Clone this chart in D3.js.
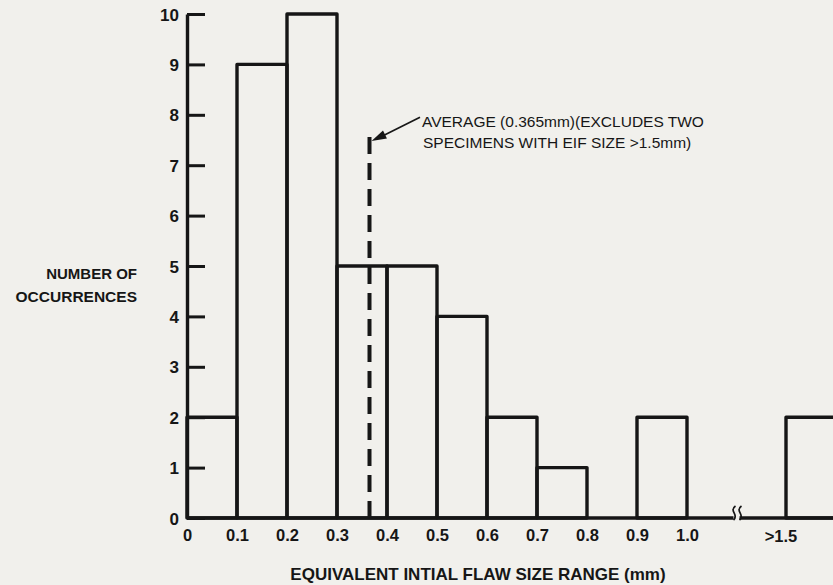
<!DOCTYPE html>
<html>
<head>
<meta charset="utf-8">
<script src="https://cdn.jsdelivr.net/npm/d3@7"></script>
<style>
  body { margin: 0; background: #f1f0ec; }
  svg { display: block; }
  text { font-family: "Liberation Sans", Arial, Helvetica, sans-serif; fill: #161616; }
</style>
</head>
<body>
<div id="chart"></div>
<script>
// histogram bins (lower edge of each 0.1 mm range) and counts
var binStarts = [0, 0.1, 0.2, 0.3, 0.4, 0.5, 0.6, 0.7, 0.8, 0.9];
var counts = [2, 9, 10, 5, 5, 4, 2, 1, 0, 2];
// the separate ">1.5" bin past the axis break
var overflowStart = 1.5;
var overflowCount = 2;
var binWidth = 0.1;

var xTicks = [0, 0.1, 0.2, 0.3, 0.4, 0.5, 0.6, 0.7, 0.8, 0.9, 1.0];
var xTickLabels = ["0", "0.1", "0.2", "0.3", "0.4", "0.5", "0.6", "0.7", "0.8", "0.9", "1.0"];
var yTicks = [0, 1, 2, 3, 4, 5, 6, 7, 8, 9, 10];

var average = 0.365;
var averageTop = 7.65;

var width = 833, height = 585;
var ink = "#161616";

var svg = d3.select("#chart")
  .append("svg")
  .attr("width", width)
  .attr("height", height);

// x scale with a break between 1.0 and 1.5
var x = d3.scaleLinear()
  .domain([0, 1.0, 1.5, 1.6])
  .range([187, 687, 786, 836]);

var y = d3.scaleLinear()
  .domain([0, 10])
  .range([518, 14]);

// bars (outlines only, like the drawing)
var bars = binStarts.map((d, i) => ({ x0: d, x1: d + binWidth, v: counts[i] }))
  .concat([{ x0: overflowStart, x1: overflowStart + binWidth, v: overflowCount }])
  .filter(d => d.v > 0);

svg.selectAll("rect.bar")
  .data(bars)
  .enter()
  .append("rect")
  .attr("class", "bar")
  .attr("x", d => x(d.x0))
  .attr("y", d => y(d.v))
  .attr("width", d => x(d.x1) - x(d.x0))
  .attr("height", d => y(0) - y(d.v))
  .style("fill", "none")
  .style("stroke", ink)
  .style("stroke-width", 3.4)
  .style("stroke-linejoin", "round");

// y axis, ticks point inward
var yAxis = svg.append("g")
  .attr("transform", "translate(" + x(0) + ",0)")
  .call(d3.axisLeft(y).tickValues(yTicks).tickSize(-18).tickSizeOuter(0));

yAxis.select(".domain").style("stroke", ink).style("stroke-width", 3.4);
yAxis.selectAll(".tick line").style("stroke", ink).style("stroke-width", 3);
yAxis.selectAll(".tick text")
  .style("font-size", "17px")
  .style("font-weight", "bold")
  .style("fill", ink)
  .attr("x", -8)
  .attr("dy", "0.36em");

// x axis labels only, baseline drawn by hand because of the break
var xAxis = svg.append("g")
  .attr("transform", "translate(0," + y(0) + ")")
  .call(d3.axisBottom(x).tickValues(xTicks).tickFormat((d, i) => xTickLabels[i]).tickSize(0).tickPadding(11));

xAxis.select(".domain").remove();
xAxis.selectAll(".tick text")
  .style("font-size", "16.5px")
  .style("font-weight", "bold")
  .style("fill", ink);

svg.append("text")
  .attr("x", x(overflowStart) - 5)
  .attr("y", y(0) + 24)
  .attr("text-anchor", "middle")
  .style("font-size", "16.5px")
  .style("font-weight", "bold")
  .text(">1.5");

// baseline with gap at the break
var breakX = x(1.25);
svg.append("line")
  .attr("x1", x(0)).attr("x2", breakX - 3)
  .attr("y1", y(0)).attr("y2", y(0))
  .style("stroke", ink).style("stroke-width", 3.4);
svg.append("line")
  .attr("x1", breakX + 3).attr("x2", width)
  .attr("y1", y(0)).attr("y2", y(0))
  .style("stroke", ink).style("stroke-width", 3.4);

// break marks: two small wavy strokes
[-3, 3].forEach(function (dx) {
  var bx = breakX + dx, by = y(0);
  svg.append("path")
    .attr("d", "M" + (bx + 2) + "," + (by - 12) +
      " C" + (bx - 5) + "," + (by - 7) + " " + (bx + 6) + "," + (by - 3) + " " + bx + "," + (by + 2))
    .style("fill", "none")
    .style("stroke", ink)
    .style("stroke-width", 1.7);
});

// dashed average line
svg.append("line")
  .attr("x1", x(average)).attr("x2", x(average))
  .attr("y1", y(0)).attr("y2", y(averageTop))
  .style("stroke", ink)
  .style("stroke-width", 4)
  .style("stroke-dasharray", "17,9");

// arrow from annotation to the dashed line
var ax0 = x(0.466), ay0 = y(7.95);
var ax1 = x(average) + 2, ay1 = y(7.48);
svg.append("line")
  .attr("x1", ax0).attr("y1", ay0)
  .attr("x2", ax1 + 10).attr("y2", ay1 - 4.6)
  .style("stroke", ink)
  .style("stroke-width", 1.7);

var ang = Math.atan2(ay0 - ay1, ax0 - ax1);
var hl = 15, hw = 4.5;
var bxh = ax1 + hl * Math.cos(ang), byh = ay1 + hl * Math.sin(ang);
svg.append("path")
  .attr("d", "M" + ax1 + "," + ay1 +
    " L" + (bxh - hw * Math.sin(ang)) + "," + (byh + hw * Math.cos(ang)) +
    " L" + (bxh + hw * Math.sin(ang)) + "," + (byh - hw * Math.cos(ang)) + " Z")
  .style("fill", ink);

// annotation text
svg.append("text")
  .attr("x", 422)
  .attr("y", 127)
  .style("font-size", "15.5px")
  .text("AVERAGE (0.365mm)(EXCLUDES TWO");

svg.append("text")
  .attr("x", 423)
  .attr("y", 148)
  .style("font-size", "15.5px")
  .text("SPECIMENS WITH EIF SIZE >1.5mm)");

// axis titles
svg.append("text")
  .attr("x", 137)
  .attr("y", 279)
  .attr("text-anchor", "end")
  .style("font-size", "15px")
  .style("font-weight", "bold")
  .text("NUMBER OF");

svg.append("text")
  .attr("x", 137)
  .attr("y", 302)
  .attr("text-anchor", "end")
  .style("font-size", "15.5px")
  .style("font-weight", "bold")
  .text("OCCURRENCES");

svg.append("text")
  .attr("x", 478)
  .attr("y", 580)
  .attr("text-anchor", "middle")
  .style("font-size", "17px")
  .style("font-weight", "bold")
  .text("EQUIVALENT INTIAL FLAW SIZE RANGE (mm)");
</script>
</body>
</html>
